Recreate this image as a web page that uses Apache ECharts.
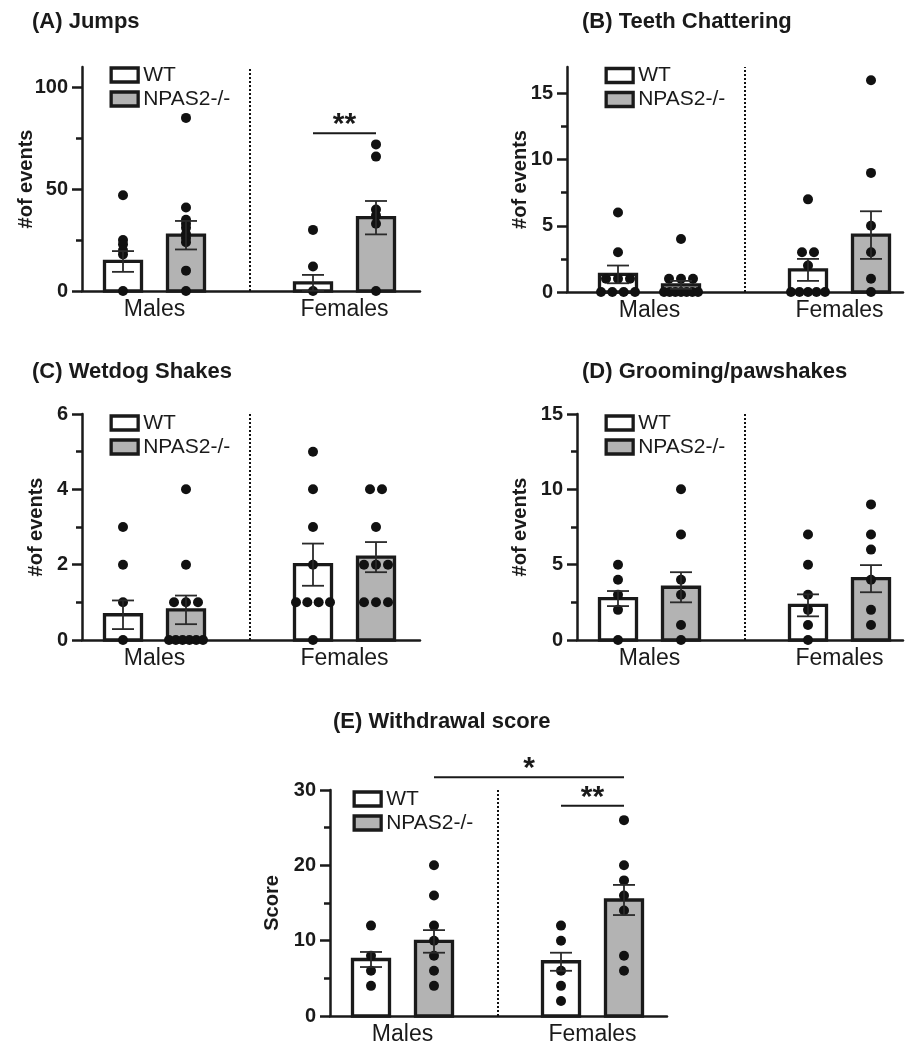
<!DOCTYPE html>
<html>
<head>
<meta charset="utf-8">
<script src="https://cdn.jsdelivr.net/npm/echarts@6/dist/echarts.min.js"></script>
<style>
  html, body { margin: 0; padding: 0; background: #fff; }
  #chart { width: 907px; height: 1049px; }
</style>
</head>
<body>
<div id="chart"></div>
<script>
var FONT = '"Liberation Sans", Arial, Helvetica, sans-serif';
var INK = '#1a1a1a';

// ---- data ----
var groupNames = ['WT', 'NPAS2-/-'];
var sexLabels = ['Males', 'Females'];
var panelTitles = ['(A) Jumps', '(B) Teeth Chattering', '(C) Wetdog Shakes', '(D) Grooming/pawshakes', '(E) Withdrawal score'];
var yNames = ['#of events', '#of events', '#of events', '#of events', 'Score'];
var yMax = [110, 17, 6, 15, 30];
var yMajorTicks = [[0, 50, 100], [0, 5, 10, 15], [0, 2, 4, 6], [0, 5, 10, 15], [0, 10, 20, 30]];
var yMinorTicks = [[25, 75], [2.5, 7.5, 12.5], [1, 3, 5], [2.5, 7.5, 12.5], [5, 15, 25]];

// bar order: WT males, NPAS2-/- males, WT females, NPAS2-/- females
var jumpsMean = [14.5, 27.4, 4.0, 36.0];
var jumpsSem = [5.1, 7.0, 3.9, 8.2];
var jumpsPts = [[47, 25, 23, 20, 18, 0], [85, 41, 35, 33, 31, 28, 26, 24, 10, 0], [30, 12, 0], [72, 66, 40, 37, 33, 0]];

var teethMean = [1.33, 0.54, 1.67, 4.3];
var teethSem = [0.67, 0.3, 0.83, 1.8];
var teethPts = [[6, 3, 1, 1, 1, 0, 0, 0, 0], [4, 1, 1, 1, 0, 0, 0, 0, 0, 0, 0], [7, 3, 3, 2, 0, 0, 0, 0, 0], [16, 9, 5, 3, 1, 0]];

var wetdogMean = [0.67, 0.8, 2.0, 2.2];
var wetdogSem = [0.38, 0.38, 0.56, 0.4];
var wetdogPts = [[3, 2, 1, 0], [4, 2, 1, 1, 1, 0, 0, 0, 0, 0, 0], [5, 4, 3, 2, 1, 1, 1, 1, 0], [4, 4, 3, 2, 2, 2, 1, 1, 1]];

var groomMean = [2.75, 3.5, 2.3, 4.07];
var groomSem = [0.5, 1.0, 0.73, 0.9];
var groomPts = [[5, 4, 3, 2, 0], [10, 7, 4, 3, 1, 0], [7, 5, 3, 2, 1, 0], [9, 7, 6, 4, 2, 1]];

var scoreMean = [7.5, 9.9, 7.2, 15.4];
var scoreSem = [1.0, 1.5, 1.2, 2.0];
var scorePts = [[12, 8, 6, 4], [20, 16, 12, 10, 8, 6, 4], [12, 10, 6, 4, 2], [26, 20, 18, 16, 14, 8, 6]];

// significance brackets: from bar -> to bar, height in axis units
var jumpsSig = [{ from: 2, to: 3, y: 77.5, text: '**' }];
var scoreSig = [{ from: 1, to: 3, y: 31.7, text: '*' }, { from: 2, to: 3, y: 27.9, text: '**' }];

var panelMeans = [jumpsMean, teethMean, wetdogMean, groomMean, scoreMean];
var panelSems = [jumpsSem, teethSem, wetdogSem, groomSem, scoreSem];
var panelPts = [jumpsPts, teethPts, wetdogPts, groomPts, scorePts];
var panelSig = [jumpsSig, [], [], [], scoreSig];

// ---- layout (x axis in pixel-like units) ----
var barX = [41, 104, 231, 294];
var dividerX = 167.5;
var sexX = [72.5, 262.5];
var barColors = ['#ffffff', '#b3b3b3'];
var layout = [
  { left: 82, top: 67, width: 338, height: 224, xMin: 0, xMax: 338, nameGap: 46, title: [32, 11], legend: [109.5, 64.5] },
  { left: 567, top: 67, width: 336, height: 225, xMin: -10, xMax: 326, nameGap: 37, title: [582, 11], legend: [604.5, 65] },
  { left: 82, top: 414, width: 338, height: 226, xMin: 0, xMax: 338, nameGap: 36, title: [32, 361], legend: [109.5, 412.5] },
  { left: 577, top: 414, width: 326, height: 226, xMin: 0, xMax: 326, nameGap: 47, title: [582, 361], legend: [604.5, 412.5] },
  { left: 330, top: 790, width: 337, height: 226, xMin: 0, xMax: 337, nameGap: 48, title: [333, 711], legend: [352.5, 788.5] }
];

// spread equal values sideways like the prism scatter
function spreadDots(pts, cx) {
  var counts = {}, seen = {}, out = [];
  pts.forEach(function (v) { counts[v] = (counts[v] || 0) + 1; });
  pts.forEach(function (v) {
    var k = counts[v];
    var i = seen[v] || 0;
    seen[v] = i + 1;
    var sp = k > 1 ? Math.min(12, 34 / (k - 1)) : 0;
    out.push([cx + (i - (k - 1) / 2) * sp, v]);
  });
  return out;
}

function barRender(fill) {
  return function (params, api) {
    var x = api.value(0), m = api.value(1);
    var base = api.coord([x, 0]);
    var top = api.coord([x, m]);
    var w = 37;
    return {
      type: 'rect',
      shape: { x: base[0] - w / 2, y: top[1], width: w, height: base[1] - top[1] },
      style: { fill: fill, stroke: INK, lineWidth: 3.3 }
    };
  };
}

function errRender(params, api) {
  var x = api.value(0), m = api.value(1), s = api.value(2);
  var hi = api.coord([x, m + s]);
  var lo = api.coord([x, m - s]);
  var cap = 11;
  var st = { stroke: '#2a2a2a', lineWidth: 1.8 };
  return {
    type: 'group',
    children: [
      { type: 'line', shape: { x1: hi[0], y1: hi[1], x2: lo[0], y2: lo[1] }, style: st },
      { type: 'line', shape: { x1: hi[0] - cap, y1: hi[1], x2: hi[0] + cap, y2: hi[1] }, style: st },
      { type: 'line', shape: { x1: lo[0] - cap, y1: lo[1], x2: lo[0] + cap, y2: lo[1] }, style: st }
    ]
  };
}

function sigRender(list) {
  return function (params, api) {
    var s = list[params.dataIndex];
    var a = api.coord([barX[s.from], s.y]);
    var b = api.coord([barX[s.to], s.y]);
    return {
      type: 'group',
      children: [
        { type: 'line', shape: { x1: a[0], y1: a[1], x2: b[0], y2: b[1] }, style: { stroke: INK, lineWidth: 2 } },
        { type: 'text', style: { text: s.text, x: (a[0] + b[0]) / 2, y: a[1] - 8.5, align: 'center', verticalAlign: 'middle', font: 'bold 30px ' + FONT, fill: INK } }
      ]
    };
  };
}

var grids = [], xAxes = [], yAxes = [], series = [], titles = [], legends = [];

layout.forEach(function (L, i) {
  grids.push({ left: L.left, top: L.top, width: L.width, height: L.height });
  titles.push({
    text: panelTitles[i], left: L.title[0], top: L.title[1], padding: 0,
    textStyle: { fontFamily: FONT, fontSize: 22, fontWeight: 'bold', color: INK }
  });
  legends.push({
    orient: 'vertical', left: L.legend[0], top: L.legend[1], padding: 0,
    icon: 'rect', itemWidth: 27, itemHeight: 14, itemGap: 3,
    selectedMode: false,
    itemStyle: { borderColor: INK, borderWidth: 3.3 },
    textStyle: { fontFamily: FONT, fontSize: 21, color: INK, lineHeight: 20 },
    data: [
      { name: groupNames[0], itemStyle: { color: barColors[0] } },
      { name: groupNames[1], itemStyle: { color: barColors[1] } }
    ]
  });
  xAxes.push({
    type: 'value', gridIndex: i, min: L.xMin, max: L.xMax,
    axisLine: { onZero: false, lineStyle: { color: INK, width: 2.5 } },
    axisTick: { show: false },
    splitLine: { show: false },
    axisLabel: {
      customValues: sexX, margin: 7,
      fontFamily: FONT, fontSize: 23, color: INK,
      formatter: function (v) { return sexLabels[sexX.indexOf(v)]; }
    }
  });
  yAxes.push({
    type: 'value', gridIndex: i, position: 'left', min: 0, max: yMax[i],
    name: yNames[i], nameLocation: 'middle', nameGap: L.nameGap, nameMoveOverlap: false,
    nameTextStyle: { fontFamily: FONT, fontSize: 20, fontWeight: 'bold', color: INK },
    axisLine: { show: true, onZero: false, lineStyle: { color: INK, width: 2.5 } },
    axisTick: { show: true, customValues: yMajorTicks[i], length: 10, lineStyle: { color: INK, width: 2.5 } },
    axisLabel: { customValues: yMajorTicks[i], margin: 14, fontFamily: FONT, fontSize: 20, fontWeight: 'bold', color: INK },
    splitLine: { show: false }
  });
  yAxes.push({
    type: 'value', gridIndex: i, position: 'left', min: 0, max: yMax[i],
    axisLine: { show: false, onZero: false },
    axisTick: { show: true, customValues: yMinorTicks[i], length: 6, lineStyle: { color: INK, width: 2.5 } },
    axisLabel: { show: false },
    splitLine: { show: false }
  });

  var means = panelMeans[i], sems = panelSems[i], pts = panelPts[i];
  // bars: WT at indices 0,2 ; NPAS2-/- at 1,3
  [0, 1].forEach(function (g) {
    series.push({
      type: 'custom', name: groupNames[g], xAxisIndex: i, yAxisIndex: 2 * i, z: 2,
      itemStyle: { color: barColors[g], borderColor: INK, borderWidth: 3 },
      renderItem: barRender(barColors[g]),
      data: [[barX[g], means[g]], [barX[g + 2], means[g + 2]]]
    });
  });
  var dots = [];
  pts.forEach(function (p, k) { dots = dots.concat(spreadDots(p, barX[k])); });
  series.push({
    type: 'scatter', name: 'points', xAxisIndex: i, yAxisIndex: 2 * i, z: 3,
    symbol: 'circle', symbolSize: 10, itemStyle: { color: '#111', opacity: 1 },
    data: dots,
    markLine: {
      silent: true, symbol: ['none', 'none'], label: { show: false },
      lineStyle: { type: [2, 2], color: '#111', width: 2 },
      data: [{ xAxis: dividerX }]
    }
  });
  series.push({
    type: 'custom', name: 'sem', xAxisIndex: i, yAxisIndex: 2 * i, z: 4,
    renderItem: errRender,
    data: means.map(function (m, k) { return [barX[k], m, sems[k]]; })
  });
  if (panelSig[i].length) {
    series.push({
      type: 'custom', name: 'sig', xAxisIndex: i, yAxisIndex: 2 * i, z: 5, clip: false,
      renderItem: sigRender(panelSig[i]),
      data: panelSig[i].map(function (s) { return [barX[s.from], s.y]; })
    });
  }
});

var myChart = echarts.init(document.getElementById('chart'));
myChart.setOption({
  animation: false,
  backgroundColor: '#fff',
  title: titles,
  legend: legends,
  grid: grids,
  xAxis: xAxes,
  yAxis: yAxes,
  series: series
});
</script>
</body>
</html>
